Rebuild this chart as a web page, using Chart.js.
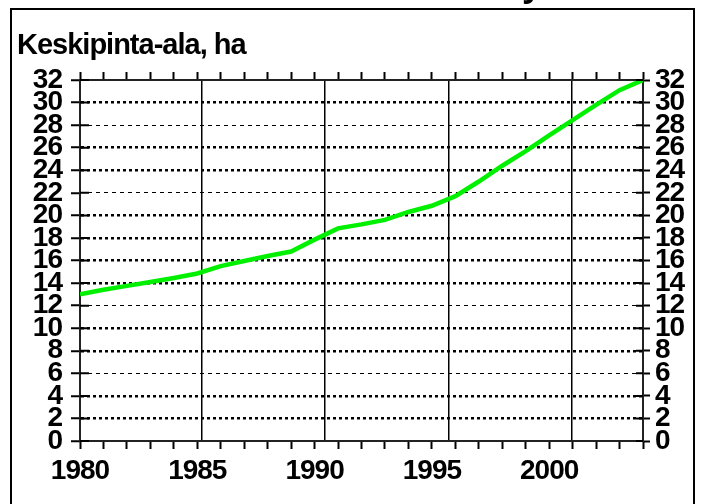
<!DOCTYPE html>
<html>
<head>
<meta charset="utf-8">
<script src="https://cdn.jsdelivr.net/npm/chart.js@4/dist/chart.umd.min.js"></script>
<style>
  html, body { margin: 0; padding: 0; background: #fff; }
  body { position: relative; width: 705px; height: 504px; overflow: hidden; font-family: 'Liberation Sans', Arial, sans-serif; }
  .wrap { position: absolute; left: 0; top: 0; width: 705px; height: 504px; }
  .frame { position: absolute; left: 10px; top: 8px; width: 681px; height: 520px; border: 2px solid #000; }
  .title { position: absolute; left: 17px; top: 30px; font-weight: bold; font-size: 29px; line-height: 29px; letter-spacing: -1px; color: #000; }
  .cut { position: absolute; left: 522px; top: -34px; font-weight: bold; font-size: 36px; line-height: 36px; color: #000; }
</style>
</head>
<body>
<div class="wrap"><canvas id="myChart" width="705" height="504"></canvas></div>
<div class="frame"></div>
<div class="cut">y</div>
<div class="title">Keskipinta-ala, ha</div>
<script>
'use strict';

// vuodet ja keskipinta-ala (ha)
const vuodet = [1980, 1981, 1982, 1983, 1984, 1985, 1986, 1987, 1988, 1989, 1990, 1991, 1992,
  1993, 1994, 1995, 1996, 1997, 1998, 1999, 2000, 2001, 2002, 2003, 2004];
const keskipintaAla = [13.0, 13.4, 13.75, 14.1, 14.45, 14.85, 15.5, 15.95, 16.4, 16.8, 17.85, 18.85, 19.2,
  19.6, 20.3, 20.85, 21.7, 23.0, 24.4, 25.7, 27.1, 28.45, 29.8, 31.1, 32.0];

const vuosiLabels = [1980, 1985, 1990, 1995, 2000];
const pystyViivat = [1985.2, 1990.45, 1995.7, 2000.95];
const yTicks = [0, 2, 4, 6, 8, 10, 12, 14, 16, 18, 20, 22, 24, 26, 28, 30, 32];
const ohuetViivat = [6, 12, 22, 28];

const tickFont = { family: "'Liberation Sans', Arial, sans-serif", size: 28, weight: 'bold', lineHeight: 1 };

const isThin = function(v) {
  return ohuetViivat.includes(v);
};
const isEdge = function(v) {
  return v === yTicks[0] || v === yTicks[yTicks.length - 1];
};

const fixedTicks = function(scale) {
  scale.ticks = yTicks.map(function(v) { return { value: v }; });
};

const innerTicks = {
  id: 'innerTicks',
  beforeDraw: function(chart) {
    chart.ctx.letterSpacing = '-1px';
  },
  afterDatasetsDraw: function(chart) {
    const ctx = chart.ctx;
    const a = chart.chartArea;
    const yl = chart.scales.y;
    ctx.save();
    ctx.strokeStyle = '#000';
    ctx.lineWidth = 2;
    ctx.beginPath();
    for (let t of yl.ticks) {
      const p = yl.getPixelForValue(t.value);
      ctx.moveTo(a.left, p);
      ctx.lineTo(a.left + 9, p);
      ctx.moveTo(a.right - 7, p);
      ctx.lineTo(a.right, p);
    }
    ctx.stroke();
    ctx.restore();
  }
};

const displayChart = function() {
  const ctx = document.getElementById('myChart');
  const punkt = vuodet.map(function(v, i) { return { x: v, y: keskipintaAla[i] }; });
  new Chart(ctx, {
    type: 'line',
    data: {
      datasets: [
        {
          label: 'Keskipinta-ala, ha',
          data: punkt,
          borderColor: '#00f000',
          borderWidth: 4.5,
          pointRadius: 0,
          tension: 0,
          fill: false,
          xAxisID: 'x',
          yAxisID: 'y'
        }
      ]
    },
    options: {
      responsive: false,
      animation: false,
      events: [],
      layout: { padding: 0 },
      plugins: { legend: { display: false }, tooltip: { enabled: false }, title: { display: false } },
      scales: {
        x: {
          type: 'linear', position: 'bottom', min: 1980, max: 2004,
          afterFit: function(s) { s.height = 63; },
          ticks: {
            stepSize: 1, autoSkip: false, maxRotation: 0, padding: 8, color: '#000', font: tickFont,
            callback: function(v) { return vuosiLabels.includes(v) ? String(v) : ''; }
          },
          grid: { drawOnChartArea: false, drawTicks: true, tickLength: 8, tickColor: '#000', tickWidth: 2 },
          border: { color: '#222', width: 2 }
        },
        xg: {
          type: 'linear', position: 'bottom', min: 1980, max: 2004,
          afterFit: function(s) { s.height = 0; },
          afterBuildTicks: function(s) { s.ticks = pystyViivat.map(function(v) { return { value: v }; }); },
          ticks: { display: false },
          grid: { drawOnChartArea: true, drawTicks: false, color: '#000', lineWidth: 1.5 },
          border: { display: false }
        },
        xTop: {
          type: 'linear', position: 'top', min: 1980, max: 2004,
          afterFit: function(s) { s.height = 80; },
          ticks: { display: false, stepSize: 1, autoSkip: false },
          grid: { drawOnChartArea: false, drawTicks: true, tickLength: 8, tickColor: '#000', tickWidth: 2 },
          border: { color: '#222', width: 2 }
        },
        y: {
          type: 'linear', position: 'left', min: 0, max: 32,
          afterFit: function(s) { s.width = 80; },
          afterBuildTicks: fixedTicks,
          ticks: { autoSkip: false, padding: 9, color: '#000', font: tickFont },
          grid: {
            drawOnChartArea: true, tickLength: 9, tickColor: '#000', tickWidth: 2, lineWidth: 2.5,
            color: function(c) {
              const v = c.tick ? c.tick.value : null;
              return (v === null || isEdge(v) || isThin(v)) ? 'rgba(0,0,0,0)' : '#000';
            }
          },
          border: { color: '#222', width: 2, dash: [3, 3] }
        },
        y2: {
          type: 'linear', position: 'right', min: 0, max: 32,
          afterFit: function(s) { s.width = 62; },
          afterBuildTicks: fixedTicks,
          ticks: { autoSkip: false, padding: 5, color: '#000', font: tickFont },
          grid: {
            drawOnChartArea: true, tickLength: 7, tickColor: '#000', tickWidth: 2, lineWidth: 1,
            color: function(c) {
              const v = c.tick ? c.tick.value : null;
              return (v !== null && isThin(v)) ? '#000' : 'rgba(0,0,0,0)';
            }
          },
          border: { color: '#222', width: 2, dash: [4, 4] }
        }
      }
    },
    plugins: [innerTicks]
  });
};

document.addEventListener('DOMContentLoaded', function() {
  displayChart();
});
</script>
</body>
</html>
